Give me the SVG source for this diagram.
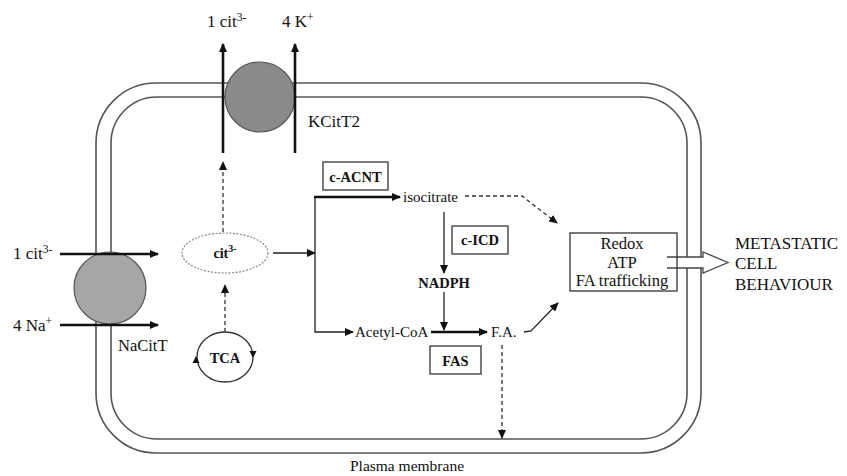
<svg xmlns="http://www.w3.org/2000/svg" width="847" height="476" viewBox="0 0 847 476">
<style>
text{font-family:"Liberation Serif","Times New Roman",serif;fill:#111}
.b{font-weight:bold}
.mem{fill:none;stroke:#555;stroke-width:1.6}
.ln{fill:none;stroke:#222;stroke-width:1.3}
.thk{fill:none;stroke:#111;stroke-width:2.6}
.dsh{fill:none;stroke:#333;stroke-width:1.3;stroke-dasharray:4,3}
.box{fill:none;stroke:#333;stroke-width:1.3}
</style>
<defs>
<marker id="ah" markerWidth="9" markerHeight="8" refX="8" refY="4" orient="auto" markerUnits="userSpaceOnUse">
<path d="M0,0 L9,4 L0,8 Z" fill="#111"/>
</marker>
</defs>
<rect width="847" height="476" fill="#fff"/>

<g id="membrane">
<rect class="mem" x="96" y="83" width="605" height="370" rx="60" ry="60"/>
<rect class="mem" x="111" y="97" width="576" height="342" rx="46" ry="46"/>
<text x="407" y="471" font-size="15.5" text-anchor="middle">Plasma membrane</text>
</g>

<g id="KCitT2">
<circle cx="260" cy="97" r="35" fill="#8a8a8a" stroke="#555" stroke-width="1.2"/>
<line class="thk" x1="223" y1="153" x2="223" y2="44" marker-end="url(#ah)"/>
<line class="thk" x1="295" y1="153" x2="295" y2="44" marker-end="url(#ah)"/>
<text x="207" y="27" font-size="17">1 cit<tspan font-size="11.5" dy="-6">3-</tspan></text>
<text x="282" y="27" font-size="17">4 K<tspan font-size="11.5" dy="-6">+</tspan></text>
<text x="308" y="127" font-size="17">KCitT2</text>
</g>

<g id="NaCitT">
<circle cx="110" cy="288" r="36" fill="#a6a6a6" stroke="#555" stroke-width="1.2"/>
<line class="thk" x1="60" y1="254" x2="158" y2="254" marker-end="url(#ah)"/>
<line class="thk" x1="60" y1="325" x2="158" y2="325" marker-end="url(#ah)"/>
<text x="13" y="259" font-size="17">1 cit<tspan font-size="11.5" dy="-6">3-</tspan></text>
<text x="13" y="331" font-size="17">4 Na<tspan font-size="11.5" dy="-6">+</tspan></text>
<text x="118" y="351" font-size="16.5">NaCitT</text>
</g>

<g id="cit">
<ellipse cx="225" cy="253" rx="43" ry="20" fill="none" stroke="#888" stroke-width="1.2" stroke-dasharray="2,1.5"/>
<text class="b" x="225" y="258" font-size="14" text-anchor="middle">cit<tspan font-size="10" dy="-6">3-</tspan></text>
</g>

<g id="TCA">
<ellipse cx="225" cy="357" rx="28" ry="25" fill="none" stroke="#333" stroke-width="1.3"/>
<path d="M196,356 L192.5,363 L199.5,363 Z" fill="#111"/>
<path d="M253,358 L249.5,351 L256.5,351 Z" fill="#111"/>
<text class="b" x="225" y="363" font-size="14.5" text-anchor="middle">TCA</text>
</g>

<g id="cACNT">
<rect class="box" x="323" y="162" width="65" height="28"/>
<text class="b" x="355.5" y="182" font-size="14.5" text-anchor="middle">c-ACNT</text>
</g>
<g id="isocitrate"><text x="403" y="202" font-size="15">isocitrate</text></g>
<g id="cICD">
<rect class="box" x="452" y="226" width="56" height="28"/>
<text class="b" x="480" y="245" font-size="14.5" text-anchor="middle">c-ICD</text>
</g>
<g id="NADPH"><text class="b" x="444" y="288" font-size="14.5" text-anchor="middle">NADPH</text></g>
<g id="AcetylCoA"><text x="355" y="337" font-size="15">Acetyl-CoA</text></g>
<g id="FA"><text x="491" y="337" font-size="15">F.A.</text></g>
<g id="FAS">
<rect class="box" x="430" y="346" width="51" height="28"/>
<text class="b" x="455.5" y="366" font-size="14.5" text-anchor="middle">FAS</text>
</g>

<g id="connectors">
<line class="dsh" x1="223" y1="232" x2="223" y2="162" marker-end="url(#ah)"/>
<line class="dsh" x1="225" y1="332" x2="225" y2="285" marker-end="url(#ah)"/>
<line class="ln" x1="273" y1="253" x2="315" y2="253" marker-end="url(#ah)"/>
<path class="ln" d="M315,197 V332 H353" marker-end="url(#ah)"/>
<line class="thk" x1="314" y1="197" x2="400" y2="197" marker-end="url(#ah)"/>
<path class="dsh" d="M465,196 H522 L557,223" marker-end="url(#ah)"/>
<line class="ln" x1="444" y1="212" x2="444" y2="273" marker-end="url(#ah)"/>
<line class="ln" x1="444" y1="292" x2="444" y2="330" marker-end="url(#ah)"/>
<line class="thk" x1="431" y1="332" x2="487" y2="332" marker-end="url(#ah)"/>
<path class="ln" d="M524,332 L531,331 L558,303" marker-end="url(#ah)"/>
<line class="dsh" x1="502" y1="345" x2="502" y2="438" marker-end="url(#ah)"/>
<path d="M667,257 H703 V252 L728,262.5 L703,273 V268 H667" fill="#fff" stroke="#444" stroke-width="1.3"/>
</g>

<g id="outcomes">
<rect class="box" x="570" y="233" width="107" height="58"/>
<text x="622" y="249" font-size="16.5" text-anchor="middle">Redox</text>
<text x="622" y="268" font-size="16.5" text-anchor="middle">ATP</text>
<text x="622" y="286" font-size="16.5" text-anchor="middle">FA trafficking</text>
</g>

<g id="metastatic">
<text x="735" y="249" font-size="17">METASTATIC</text>
<text x="735" y="269" font-size="17">CELL</text>
<text x="735" y="290" font-size="17">BEHAVIOUR</text>
</g>
</svg>
